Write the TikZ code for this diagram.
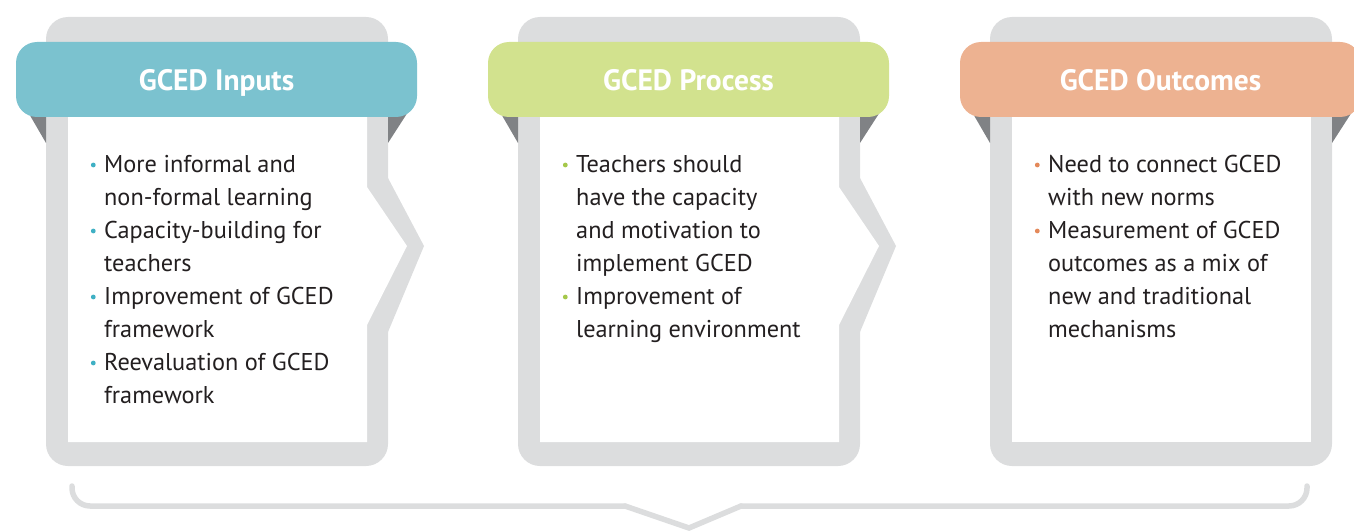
\documentclass[tikz,border=0pt]{standalone}
\usepackage{fontspec}
\setmainfont{PT Sans}
\definecolor{framegray}{HTML}{DCDDDE}
\definecolor{foldgray}{HTML}{808285}
\definecolor{hdA}{HTML}{7BC2CF}
\definecolor{hdB}{HTML}{D2E28E}
\definecolor{hdC}{HTML}{EDB291}
\definecolor{dotA}{HTML}{3FB0C4}
\definecolor{dotB}{HTML}{A5C84A}
\definecolor{dotC}{HTML}{E4895A}
\definecolor{txt}{HTML}{231F20}
\begin{document}
\begin{tikzpicture}[x=1pt,y=-1pt,
  header/.style={rounded corners=21, minimum width=401, minimum height=75, inner sep=0,
    text height=23, text depth=0,
    text=white, font=\bfseries\fontsize{29.5}{29.5}\selectfont},
  body/.style={anchor=base west, inner sep=0, text=txt, font=\fontsize{24.3}{33}\selectfont},
  brace/.style={draw=framegray, line width=5.5, line cap=round}]
\useasboundingbox (0,0) rectangle (1354,532);
\clip (0,0) rectangle (1354,532);
% frames
\foreach \o in {0,472,944}{
  \begin{scope}[xshift=\o pt]
    \fill[framegray, rounded corners=22] (46,17) rectangle (388,466);
    \fill[foldgray] (28,112) -- (46,112) -- (46,143) -- cycle;
    \fill[foldgray] (388,112) -- (408,112) -- (388,143) -- cycle;
  \end{scope}
}
\foreach \o in {0,472}{
  \begin{scope}[xshift=\o pt]
    \fill[framegray] (388,178) -- (424,246) -- (388,332) -- cycle;
    \fill[white] (68,60) -- (367,60) -- (367,187) -- (407,246) -- (367,325) -- (367,442) -- (68,442) -- cycle;
  \end{scope}
}
\fill[white] (1012,60) rectangle (1311,442);
% headers
\node[header, fill=hdA] (h1) at (216.5,79.5) {GCED Inputs};
\node[header, fill=hdB] (h2) at (688.5,79.5) {GCED Process};
\node[header, fill=hdC] (h3) at (1160.5,79.5) {GCED Outcomes};
% panel 1 text
\foreach \t [count=\i] in {More informal and,non-formal learning,Capacity-building for,teachers,Improvement of GCED,framework,Reevaluation of GCED,framework}
  \node[body] (a\i) at (104,{172+33*(\i-1)}) {\t};
\foreach \yy in {165,231,297,363} \fill[dotA] (93.3,\yy) circle (2.4);
% panel 2 text
\foreach \t [count=\i] in {Teachers should,have the capacity,and motivation to,implement GCED,Improvement of,learning environment}
  \node[body] (b\i) at (576,{172+33*(\i-1)}) {\t};
\foreach \yy in {165,297} \fill[dotB] (565.3,\yy) circle (2.4);
% panel 3 text
\foreach \t [count=\i] in {Need to connect GCED,with new norms,Measurement of GCED,outcomes as a mix of,new and traditional,mechanisms}
  \node[body] (c\i) at (1048,{172+33*(\i-1)}) {\t};
\foreach \yy in {165,231} \fill[dotC] (1037.3,\yy) circle (2.4);
% bottom brace
\coordinate (bl) at (72,486);
\coordinate (br) at (1307,486);
\coordinate (vl) at (625,506);
\coordinate (vb) at (689,528);
\coordinate (vr) at (741,506);
\draw[brace, rounded corners=18] (bl) -- (72,506) -- (vl);
\draw[brace] (vl) -- (vb) -- (vr);
\draw[brace, rounded corners=18] (vr) -- (1307,506) -- (br);
\end{tikzpicture}
\end{document}
